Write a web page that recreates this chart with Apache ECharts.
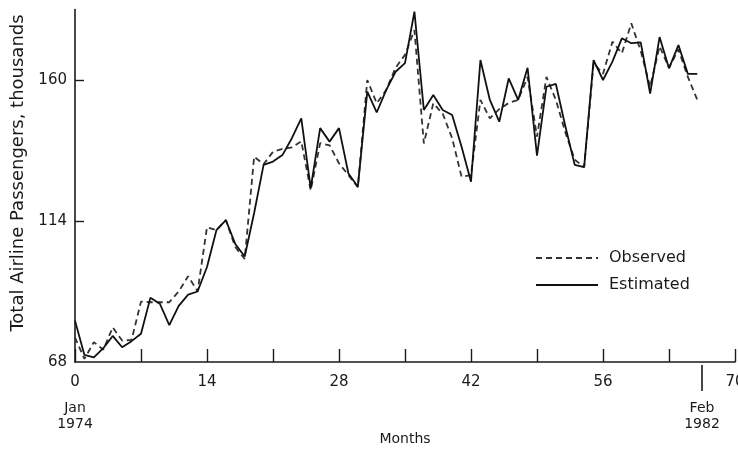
<!DOCTYPE html>
<html>
<head>
<meta charset="utf-8">
<script src="https://cdn.jsdelivr.net/npm/echarts@6/dist/echarts.min.js"></script>
<style>
  html, body { margin: 0; padding: 0; background: #fff; }
  #chart { width: 738px; height: 449px; }
</style>
</head>
<body>
<div id="chart"></div>
<script>
// Month index (0 = Jan 1974)
const months = [0,1,2,3,4,5,6,7,8,9,10,11,12,13,14,15,16,17,18,19,20,21,22,23,24,25,26,27,28,29,
  30,31,32,33,34,35,36,37,38,39,40,41,42,43,44,45,46,47,48,49,50,51,52,53,54,55,56,57,58,59,
  60,61,62,63,64,65,66];

// Total airline passengers (thousands), observed
const observed = [76,69,74.5,72,79.3,75,75.2,87.7,87.5,87.5,87.5,91,96,91,112,111,114.3,105.5,101.6,135,
  132.5,136.6,137.5,138,140,124,139.4,138.7,132.8,129,125,160,152.4,156.7,164,168.2,176.3,139.3,152.4,149,
  141,128.4,129,153.5,147.5,150.5,152.5,153.5,161,141.5,161,153.5,143,134,131.6,165.5,162,172.5,168.7,178.5,
  169.5,157.8,171,164,170,161,153.5];

// Total airline passengers (thousands), model estimate
const estimated = [81.5,70.3,69.5,72.5,76.5,72.8,74.8,77.2,89,87,80,86.3,90,91,99,111,114.3,106.5,102.4,116.6,
  132.3,133.4,135.5,141,147.5,124.7,144.3,139.9,144.3,129.5,125.2,156.2,149.4,156.7,162.7,165.5,182.3,150.2,155.1,150.2,
  148.6,138.2,126.8,166.5,153.5,146.4,160.5,153.5,164,135.3,157.8,158.7,145,132.3,131.6,166.5,160,166,173.6,172,
  172.3,155.6,174,163.8,171.4,162,162];

// Axis ticks and labels
const xTickLabels = [0,14,28,42,56,70];
const yTickLabels = [68,114,160];
const dateMarks = [{ month: 0, text: 'Jan\n1974', rule: false }, { month: 66.5, text: 'Feb\n1982', rule: true }];
const legendItems = [
  { name: 'Observed', dash: [6, 4], color: '#333' },
  { name: 'Estimated', dash: null, color: '#111' }
];

const FONT = '"DejaVu Sans", sans-serif';
const INK = '#1a1a1a';

const chart = echarts.init(document.getElementById('chart'));

chart.setOption({
  animation: false,
  backgroundColor: '#fff',
  grid: { left: 75, right: 3, top: 9.5, bottom: 87, containLabel: false, outerBoundsMode: 'none' },
  xAxis: {
    type: 'value',
    min: 0,
    max: 70,
    interval: 7,
    name: 'Months',
    nameLocation: 'middle',
    nameGap: 70,
    nameTextStyle: { fontFamily: FONT, fontSize: 14, color: INK },
    axisLine: { lineStyle: { color: INK, width: 1.6 } },
    axisTick: { inside: true, length: 13, lineStyle: { color: INK, width: 1.4 } },
    axisLabel: {
      margin: 13,
      fontFamily: FONT, fontSize: 15, color: INK,
      formatter: v => (xTickLabels.indexOf(v) >= 0 ? String(v) : '')
    },
    splitLine: { show: false }
  },
  yAxis: {
    type: 'value',
    min: 68,
    max: 183,
    interval: 46,
    axisLine: { show: true, lineStyle: { color: INK, width: 1.6 } },
    axisTick: { show: true, inside: true, length: 9, customValues: [114, 160], lineStyle: { color: INK, width: 1.4 } },
    axisLabel: {
      margin: 8,
      customValues: yTickLabels,
      fontFamily: FONT, fontSize: 15, color: INK,
      formatter: v => (yTickLabels.indexOf(v) >= 0 ? String(v) : '')
    },
    splitLine: { show: false }
  },
  series: [
    {
      name: 'Observed',
      type: 'line',
      symbol: 'none',
      data: months.map((m, i) => [m, observed[i]]),
      lineStyle: { color: legendItems[0].color, width: 1.8, type: legendItems[0].dash },
      z: 2
    },
    {
      name: 'Estimated',
      type: 'line',
      symbol: 'none',
      data: months.map((m, i) => [m, estimated[i]]),
      lineStyle: { color: legendItems[1].color, width: 1.8, type: 'solid' },
      z: 3
    }
  ]
});

// Calendar annotations below the month axis, key, and the y-axis title
const axisY = chart.convertToPixel({ yAxisIndex: 0 }, 68);
const extras = [];
dateMarks.forEach(d => {
  const px = chart.convertToPixel({ xAxisIndex: 0 }, d.month);
  if (d.rule) {
    extras.push({
      type: 'line',
      shape: { x1: px, y1: axisY + 3, x2: px, y2: axisY + 29 },
      style: { stroke: INK, lineWidth: 1.6 }
    });
  }
  extras.push({
    type: 'text',
    x: px,
    y: axisY + 38,
    style: {
      text: d.text,
      fontFamily: FONT, fontSize: 14, fill: INK,
      align: 'center', verticalAlign: 'top', lineHeight: 16
    }
  });
});

legendItems.forEach((it, i) => {
  const y = 258 + i * 27;
  extras.push({
    type: 'line',
    shape: { x1: 536, y1: y, x2: 598, y2: y },
    style: { stroke: it.color, lineWidth: 1.8, lineDash: it.dash || null }
  });
  extras.push({
    type: 'text',
    x: 609,
    y: y,
    style: {
      text: it.name,
      fontFamily: FONT, fontSize: 16, fill: INK,
      align: 'left', verticalAlign: 'middle'
    }
  });
});

extras.push({
  type: 'text',
  x: 18,
  y: 173,
  rotation: Math.PI / 2,
  style: {
    text: 'Total Airline Passengers, thousands',
    fontFamily: FONT, fontSize: 18, fill: INK,
    align: 'center', verticalAlign: 'middle'
  }
});
chart.setOption({ graphic: extras });
</script>
</body>
</html>
